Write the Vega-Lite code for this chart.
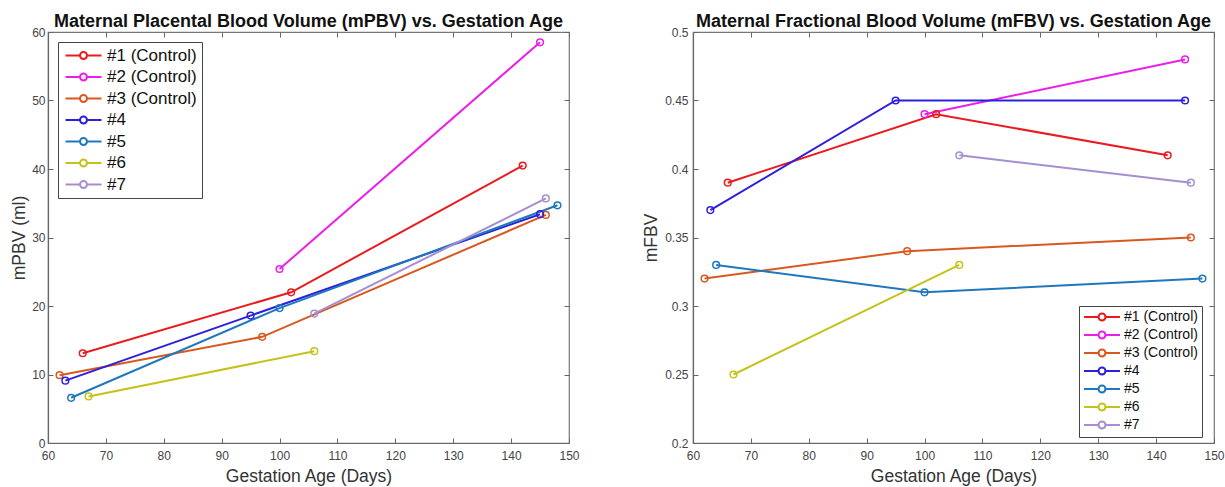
{
  "$schema": "https://vega.github.io/schema/vega-lite/v6.json",
  "background": "white",
  "padding": {"left": 10, "top": 11, "right": 5, "bottom": 0},
  "config": {
    "font": "Liberation Sans",
    "view": {"stroke": "#777", "strokeWidth": 1.2},
    "title": {"fontSize": 18, "fontWeight": "bold", "color": "#111", "frame": "group", "anchor": "middle", "offset": -4.5},
    "axis": {
      "grid": false, "domainColor": "#666", "domainWidth": 1.2, "tickColor": "#666", "tickSize": -5,
      "labelColor": "#444", "labelFontSize": 12, "labelPadding": 10, "labelFlush": false, "titleFontSize": 17.5, "titleFontWeight": "normal",
      "titleColor": "#333"
    },
    "axisBottom": {"labelPadding": 12, "titlePadding": 6}
  },
  "datasets": {
    "pbv": [
      {"s": "#1 (Control)", "age": 66, "v": 13.1},
      {"s": "#1 (Control)", "age": 102, "v": 22.0},
      {"s": "#1 (Control)", "age": 142, "v": 40.5},
      {"s": "#2 (Control)", "age": 100, "v": 25.4},
      {"s": "#2 (Control)", "age": 145, "v": 58.5},
      {"s": "#3 (Control)", "age": 62, "v": 9.9},
      {"s": "#3 (Control)", "age": 97, "v": 15.5},
      {"s": "#3 (Control)", "age": 146, "v": 33.3},
      {"s": "#4", "age": 63, "v": 9.1},
      {"s": "#4", "age": 95, "v": 18.6},
      {"s": "#4", "age": 145, "v": 33.4},
      {"s": "#5", "age": 64, "v": 6.6},
      {"s": "#5", "age": 100, "v": 19.7},
      {"s": "#5", "age": 148, "v": 34.7},
      {"s": "#6", "age": 67, "v": 6.8},
      {"s": "#6", "age": 106, "v": 13.4},
      {"s": "#7", "age": 106, "v": 18.9},
      {"s": "#7", "age": 146, "v": 35.7}
    ],
    "fbv": [
      {"s": "#1 (Control)", "age": 66, "v": 0.39},
      {"s": "#1 (Control)", "age": 102, "v": 0.44},
      {"s": "#1 (Control)", "age": 142, "v": 0.41},
      {"s": "#2 (Control)", "age": 100, "v": 0.44},
      {"s": "#2 (Control)", "age": 145, "v": 0.48},
      {"s": "#3 (Control)", "age": 62, "v": 0.32},
      {"s": "#3 (Control)", "age": 97, "v": 0.34},
      {"s": "#3 (Control)", "age": 146, "v": 0.35},
      {"s": "#4", "age": 63, "v": 0.37},
      {"s": "#4", "age": 95, "v": 0.45},
      {"s": "#4", "age": 145, "v": 0.45},
      {"s": "#5", "age": 64, "v": 0.33},
      {"s": "#5", "age": 100, "v": 0.31},
      {"s": "#5", "age": 148, "v": 0.32},
      {"s": "#6", "age": 67, "v": 0.25},
      {"s": "#6", "age": 106, "v": 0.33},
      {"s": "#7", "age": 106, "v": 0.41},
      {"s": "#7", "age": 146, "v": 0.39}
    ]
  },
  "hconcat": [
    {
      "width": 521, "height": 411,
      "data": {"name": "pbv"},
      "title": {"text": "Maternal Placental Blood Volume (mPBV) vs. Gestation Age"},
      "layer": [
        {
          "mark": {"type": "line", "strokeWidth": 2},
          "encoding": {
            "x": {"field": "age", "type": "quantitative", "scale": {"domain": [60, 150]},
                  "axis": {"title": "Gestation Age (Days)", "values": [60, 70, 80, 90, 100, 110, 120, 130, 140, 150]}},
            "y": {"field": "v", "type": "quantitative", "scale": {"domain": [0, 60]},
                  "axis": {"title": "mPBV (ml)", "values": [0, 10, 20, 30, 40, 50, 60], "labelPadding": 8, "titlePadding": 3}},
            "color": {"field": "s", "type": "nominal",
                      "scale": {"domain": ["#1 (Control)", "#2 (Control)", "#3 (Control)", "#4", "#5", "#6", "#7"],
                                "range": ["#ea1a1f", "#ea1fea", "#d9581f", "#2d20dc", "#1f78bd", "#c4c31c", "#a58fd0"]},
                      "legend": {"title": null, "orient": "none", "legendX": 10, "legendY": 10,
                                 "strokeColor": "#444", "fillColor": "white", "padding": 5,
                                 "labelFontSize": 17, "labelColor": "#111",
                                 "symbolType": "M-3,0H-0.58M0.58,0H3M-0.58,0A0.58,0.58 0 1,1 0.58,0A0.58,0.58 0 1,1 -0.58,0",
                                 "symbolSize": 144, "symbolStrokeWidth": 2, "symbolFillColor": "transparent",
                                 "symbolOffset": 12, "labelOffset": 15, "rowPadding": 3.5}}
          }
        },
        {
          "mark": {"type": "point", "filled": false, "size": 45, "strokeWidth": 1.5, "opacity": 1},
          "encoding": {
            "x": {"field": "age", "type": "quantitative",
                  "axis": {"orient": "top", "labels": false, "domain": false, "title": null, "values": [60, 70, 80, 90, 100, 110, 120, 130, 140, 150]}},
            "y": {"field": "v", "type": "quantitative",
                  "axis": {"orient": "right", "labels": false, "domain": false, "title": null, "values": [0, 10, 20, 30, 40, 50, 60]}},
            "color": {"field": "s", "type": "nominal"}
          }
        }
      ],
      "resolve": {"axis": {"x": "independent", "y": "independent"}}
    },
    {
      "width": 521, "height": 411,
      "data": {"name": "fbv"},
      "title": {"text": "Maternal Fractional Blood Volume (mFBV) vs. Gestation Age"},
      "layer": [
        {
          "mark": {"type": "line", "strokeWidth": 2},
          "encoding": {
            "x": {"field": "age", "type": "quantitative", "scale": {"domain": [60, 150]},
                  "axis": {"title": "Gestation Age (Days)", "values": [60, 70, 80, 90, 100, 110, 120, 130, 140, 150]}},
            "y": {"field": "v", "type": "quantitative", "scale": {"domain": [0.2, 0.5]},
                  "axis": {"title": "mFBV", "values": [0.2, 0.25, 0.3, 0.35, 0.4, 0.45, 0.5], "format": ".2~f", "labelPadding": 10}},
            "color": {"field": "s", "type": "nominal",
                      "scale": {"domain": ["#1 (Control)", "#2 (Control)", "#3 (Control)", "#4", "#5", "#6", "#7"],
                                "range": ["#ea1a1f", "#ea1fea", "#d9581f", "#2d20dc", "#1f78bd", "#c4c31c", "#a58fd0"]},
                      "legend": {"title": null, "orient": "none", "legendX": 386, "legendY": 274,
                                 "strokeColor": "#444", "fillColor": "white", "padding": 4,
                                 "labelFontSize": 14, "labelColor": "#111",
                                 "symbolType": "M-3,0H-0.58M0.58,0H3M-0.58,0A0.58,0.58 0 1,1 0.58,0A0.58,0.58 0 1,1 -0.58,0",
                                 "symbolSize": 144, "symbolStrokeWidth": 2, "symbolFillColor": "transparent",
                                 "symbolOffset": 12, "labelOffset": 15, "rowPadding": 2}}
          }
        },
        {
          "mark": {"type": "point", "filled": false, "size": 45, "strokeWidth": 1.5, "opacity": 1},
          "encoding": {
            "x": {"field": "age", "type": "quantitative",
                  "axis": {"orient": "top", "labels": false, "domain": false, "title": null, "values": [60, 70, 80, 90, 100, 110, 120, 130, 140, 150]}},
            "y": {"field": "v", "type": "quantitative",
                  "axis": {"orient": "right", "labels": false, "domain": false, "title": null, "values": [0.2, 0.25, 0.3, 0.35, 0.4, 0.45, 0.5]}},
            "color": {"field": "s", "type": "nominal"}
          }
        }
      ],
      "resolve": {"axis": {"x": "independent", "y": "independent"}}
    }
  ],
  "spacing": 62,
  "resolve": {"scale": {"color": "independent"}, "legend": {"color": "independent"}}
}
